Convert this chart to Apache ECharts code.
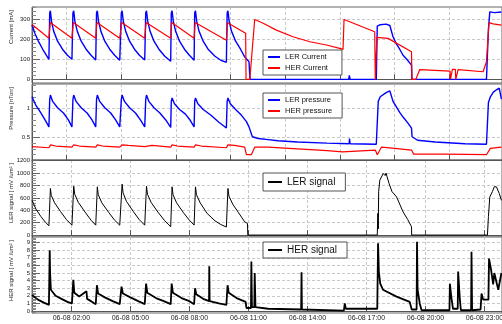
<!DOCTYPE html>
<html>
<head>
<meta charset="utf-8">
<script src="https://cdn.jsdelivr.net/npm/echarts@6/dist/echarts.min.js"></script>
<style>
  html, body { margin: 0; padding: 0; background: #fff; }
  #chart { width: 502px; height: 324px; }
</style>
</head>
<body>
<div id="chart"></div>
<script>
// time in hours since 06-08 00:00
const xTickHours = [2, 5, 8, 11, 14, 17, 20, 23];
const xTickLabels = ['06-08 02:00', '06-08 05:00', '06-08 08:00', '06-08 11:00',
  '06-08 14:00', '06-08 17:00', '06-08 20:00', '06-08 23:00'];
// upper two pads use another set of divisions
const xGridTop = [1.76, 4.54, 7.32, 10.1, 12.88, 15.65, 18.43, 21.21];

const lerCurrent = [
  [0, 270], [0.15, 228], [0.35, 185], [0.6, 140], [0.86, 100],
  [0.9, 330], [0.935, 341], [0.99, 290], [1.1, 240], [1.3, 190], [1.55, 150], [1.8, 120], [2.03, 100],
  [2.08, 330], [2.12, 341], [2.18, 290], [2.3, 240], [2.5, 190], [2.75, 150], [3.0, 120], [3.24, 97],
  [3.28, 330], [3.32, 341], [3.38, 290], [3.5, 240], [3.7, 190], [3.95, 150], [4.2, 120], [4.46, 95],
  [4.54, 330], [4.58, 341], [4.64, 290], [4.76, 240], [4.96, 190], [5.21, 150], [5.46, 120], [5.73, 96],
  [5.78, 330], [5.82, 341], [5.88, 290], [6.0, 240], [6.2, 190], [6.45, 150], [6.75, 115], [7.05, 90],
  [7.08, 330], [7.12, 341], [7.18, 290], [7.3, 240], [7.5, 190], [7.75, 150], [8.0, 120], [8.24, 95],
  [8.27, 330], [8.31, 341], [8.37, 290], [8.49, 240], [8.7, 190], [8.95, 150], [9.3, 115], [9.6, 95], [9.88, 85],
  [9.92, 330], [9.96, 341], [10.02, 290], [10.14, 240], [10.35, 190], [10.6, 150], [10.81, 112], [11.03, 88], [11.08, 0],
  [16.1, 0], [16.13, 20], [16.17, 0],
  [17.5, 0], [17.55, 265], [17.7, 272], [18.0, 275], [18.19, 268], [18.35, 212], [18.53, 175], [18.69, 150],
  [18.86, 120], [19.05, 100], [19.29, 71], [19.31, 0],
  [23.1, 0], [23.2, 250], [23.27, 336], [23.5, 332], [23.86, 335]
];

const herCurrent = [
  [0, 273], [0.86, 205], [0.93, 283], [2.03, 205], [2.1, 283], [3.24, 205], [3.3, 283],
  [4.46, 205], [4.56, 283], [5.73, 205], [5.8, 283], [7.05, 205], [7.1, 283], [8.24, 205], [8.29, 283],
  [9.88, 195], [9.94, 282], [10.86, 229], [10.88, 0], [11.07, 0], [11.32, 298], [11.75, 279], [12.42, 245],
  [13.27, 212], [14.12, 187], [14.97, 171], [15.64, 154], [15.81, 149], [15.86, 298], [17.42, 237],
  [17.45, 0], [17.51, 0], [17.53, 209], [18.1, 204], [19.29, 137], [19.31, 0], [19.51, 0], [19.71, 49],
  [21.25, 41], [21.27, 0], [21.35, 0], [21.37, 50], [21.52, 50], [21.54, 0], [21.64, 0], [21.66, 49],
  [22.93, 38], [23.1, 88], [23.23, 282], [23.44, 276], [23.86, 270]
];

const lerPressure = [
  [0, 1.20], [0.2, 1.05], [0.45, 0.92], [0.7, 0.78], [0.86, 0.68],
  [0.9, 1.15], [0.935, 1.23], [1.05, 1.12], [1.3, 1.01], [1.6, 0.92], [1.85, 0.80], [2.03, 0.68],
  [2.08, 1.15], [2.12, 1.23], [2.24, 1.12], [2.5, 1.01], [2.8, 0.92], [3.05, 0.80], [3.24, 0.68],
  [3.28, 1.15], [3.32, 1.23], [3.44, 1.12], [3.7, 1.01], [4.0, 0.92], [4.25, 0.80], [4.46, 0.68],
  [4.54, 1.15], [4.58, 1.23], [4.7, 1.12], [4.96, 1.01], [5.26, 0.92], [5.51, 0.80], [5.73, 0.68],
  [5.78, 1.15], [5.82, 1.23], [5.94, 1.12], [6.2, 1.01], [6.5, 0.92], [6.8, 0.80], [7.05, 0.67],
  [7.08, 1.12], [7.12, 1.18], [7.24, 1.08], [7.5, 0.98], [7.8, 0.9], [8.05, 0.79], [8.24, 0.68],
  [8.27, 1.12], [8.31, 1.18], [8.43, 1.08], [8.7, 0.98], [9.1, 0.88], [9.5, 0.76], [9.88, 0.66],
  [9.92, 1.12], [9.96, 1.18], [10.08, 1.08], [10.35, 0.98], [10.65, 0.88], [10.9, 0.77], [11.03, 0.68],
  [11.2, 0.51], [11.5, 0.48], [12.0, 0.46], [12.5, 0.44], [13.5, 0.42], [15.0, 0.40], [16.12, 0.39],
  [16.14, 0.48], [16.17, 0.39], [17.5, 0.38], [17.6, 1.12], [17.7, 1.2], [18.0, 1.27], [18.19, 1.3],
  [18.35, 1.12], [18.53, 1.02], [18.69, 0.93], [18.86, 0.85], [19.1, 0.75], [19.29, 0.66], [19.32, 0.51],
  [19.6, 0.45], [20.5, 0.42], [22.0, 0.39], [23.1, 0.38], [23.2, 1.1], [23.3, 1.2], [23.45, 1.28],
  [23.61, 1.32], [23.75, 1.35], [23.86, 1.16]
];

const herPressure = [
  [0, 0.34], [0.86, 0.32], [0.95, 0.37], [1.2, 0.35], [2.03, 0.33], [2.12, 0.37], [2.4, 0.35],
  [3.24, 0.33], [3.32, 0.37], [3.6, 0.35], [4.46, 0.33], [4.58, 0.37], [4.9, 0.36], [5.73, 0.34],
  [5.82, 0.37], [6.1, 0.36], [7.05, 0.33], [7.12, 0.37], [7.4, 0.35], [8.24, 0.33], [8.31, 0.37],
  [8.6, 0.35], [9.88, 0.32], [9.96, 0.37], [10.3, 0.36], [10.81, 0.33], [10.9, 0.2], [11.15, 0.2],
  [11.32, 0.33], [12.0, 0.33], [13.5, 0.3], [15.0, 0.27], [15.78, 0.25], [15.83, 0.28], [17.45, 0.28],
  [17.55, 0.2], [17.65, 0.2], [17.76, 0.33], [18.44, 0.31], [19.29, 0.28], [19.4, 0.21], [21.0, 0.21],
  [23.1, 0.2], [23.3, 0.31], [23.86, 0.33]
];

const lerSignal = [
  [0, 563], [0.2, 420], [0.45, 300], [0.7, 200], [0.86, 150],
  [0.935, 752], [0.98, 640], [1.15, 520], [1.45, 380], [1.75, 250], [2.03, 160],
  [2.12, 789], [2.17, 660], [2.35, 530], [2.7, 370], [3.0, 240], [3.24, 160],
  [3.32, 778], [3.37, 650], [3.55, 520], [3.9, 365], [4.2, 240], [4.46, 160],
  [4.58, 821], [4.63, 680], [4.8, 545], [5.15, 380], [5.45, 250], [5.73, 160],
  [5.82, 789], [5.87, 660], [6.05, 530], [6.4, 370], [6.75, 230], [7.05, 134],
  [7.12, 778], [7.17, 650], [7.35, 520], [7.7, 360], [8.0, 240], [8.24, 161],
  [8.31, 778], [8.36, 650], [8.55, 520], [8.9, 350], [9.3, 230], [9.6, 170], [9.88, 130],
  [9.96, 752], [10.01, 630], [10.2, 500], [10.5, 360], [10.81, 214], [10.95, 188], [10.97, 0],
  [17.55, 0], [17.58, 350], [17.6, 100], [17.62, 700], [17.68, 885], [17.75, 880], [17.85, 993],
  [17.95, 960], [18.0, 1000], [18.05, 939], [18.15, 832], [18.3, 700], [18.53, 617], [18.86, 375],
  [19.1, 250], [19.29, 134], [19.3, 0], [23.15, 0], [23.2, 300], [23.27, 617], [23.4, 700],
  [23.5, 780], [23.61, 778], [23.7, 800], [23.75, 671], [23.86, 560]
];

const herSignal = [
  [0, 2.1], [0.3, 1.5], [0.6, 1.1], [0.86, 0.8], [0.9, 8.0], [0.92, 5.0], [0.96, 2.8], [1.2, 2.0],
  [1.5, 1.6], [1.8, 1.2], [2.03, 1.0], [2.1, 4.1], [2.15, 2.4], [2.4, 1.9], [2.77, 2.6], [2.8, 1.6],
  [3.0, 1.3], [3.24, 0.9], [3.3, 3.4], [3.36, 2.3], [3.7, 1.8], [4.1, 1.3], [4.46, 0.9],
  [4.55, 3.2], [4.62, 2.3], [5.0, 1.8], [5.4, 1.3], [5.73, 0.9], [5.8, 3.6], [5.86, 2.4],
  [6.3, 1.7], [6.7, 1.3], [7.05, 0.9], [7.1, 3.6], [7.16, 2.4], [7.6, 1.7], [8.0, 1.3], [8.24, 0.9],
  [8.29, 3.0], [8.35, 2.2], [8.7, 1.6], [9.0, 1.3], [9.01, 5.9], [9.03, 1.3], [9.5, 1.0], [9.88, 0.8],
  [9.94, 3.4], [10.0, 2.4], [10.4, 1.7], [10.86, 1.2], [10.9, 0.4], [11.13, 0.4], [11.15, 6.5],
  [11.18, 0.5], [11.3, 0.5], [11.32, 5.0], [11.36, 0.5], [12.0, 0.3], [13.68, 0.2], [13.7, 5.1],
  [13.72, 0.2], [15.85, 0.05], [15.9, 1.0], [15.95, 0.3], [17.55, 0.3], [17.59, 8.9], [17.63, 5.2],
  [17.7, 3.6], [17.84, 2.8], [18.53, 1.9], [19.2, 1.2], [19.3, 0.2], [19.55, 0.2], [19.57, 9.1],
  [19.6, 2.8], [19.71, 1.0], [19.8, 0.1], [21.22, 0.1], [21.24, 3.6], [21.32, 1.7], [21.4, 0.3],
  [21.64, 0.3], [21.66, 5.2], [21.75, 1.5], [21.8, 0.1], [22.32, 0.1], [22.34, 7.8], [22.37, 0.1],
  [22.8, 0.2], [22.85, 2.3], [22.93, 1.5], [23.2, 1.5], [23.23, 6.9], [23.33, 5.5], [23.44, 3.5],
  [23.5, 5.0], [23.7, 2.8], [23.86, 5.0]
];

// y axes of the four pads
const yRanges = [[-18, 360], [0.109, 1.42], [-31, 1211], [-0.26, 9.74]];
const yMajor = [
  [0, 100, 200, 300],
  [0.5, 1],
  [0, 200, 400, 600, 800, 1000, 1200],
  [0, 1, 2, 3, 4, 5, 6, 7, 8, 9]
];
const yMinorStep = [20, 0.1, 40, 0.2];
const yTitles = ['Current [mA]', 'Pressure [nTorr]', 'LER signal [ mV /um\u00b2 ]', 'HER signal [ mV /um\u00b2 ]'];

const FONT = 'Liberation Sans, Arial, sans-serif';
const X_MAX = 23.89;
const pads = [
  { top: 7, height: 76 },
  { top: 84, height: 76 },
  { top: 160, height: 77 },
  { top: 237, height: 76 }
];

function minorTicks(i) {
  const out = [];
  const [lo, hi] = yRanges[i];
  const st = yMinorStep[i];
  for (let v = Math.ceil(lo / st) * st; v <= hi; v += st) {
    const r = Math.round(v * 1000) / 1000;
    if (yMajor[i].indexOf(r) < 0) out.push(r);
  }
  return out;
}

const chart = echarts.init(document.getElementById('chart'), null, { renderer: 'canvas' });

const grid = pads.map(p => ({
  left: 32, right: 0, top: p.top, height: p.height,
  show: true, borderColor: '#666', borderWidth: 1, backgroundColor: '#fff',
  outerBoundsMode: 'none', containLabel: false
}));

const xAxis = pads.map((p, i) => ({
  type: 'value', gridIndex: i, min: 0, max: X_MAX,
  axisLine: { show: true, lineStyle: { color: '#555', width: 1 } },
  axisTick: { show: true, inside: true, length: 5, customValues: i < 2 ? xGridTop : xTickHours,
    lineStyle: { color: '#555' } },
  axisLabel: {
    show: i === 3, customValues: xTickHours, fontSize: 7, color: '#222', fontFamily: FONT, margin: 2,
    formatter: v => xTickLabels[xTickHours.indexOf(Math.round(v))] || ''
  },
  splitLine: { show: true, lineStyle: { color: '#bbb', type: [3, 2], width: 0.8 } }
}));

const yAxis = [];
pads.forEach((p, i) => {
  yAxis.push({
    type: 'value', gridIndex: i, min: yRanges[i][0], max: yRanges[i][1],
    axisLine: { show: true, lineStyle: { color: '#555' } },
    axisTick: { show: true, inside: true, length: 8, customValues: yMajor[i], lineStyle: { color: '#666' } },
    axisLabel: { customValues: yMajor[i], fontSize: 6, color: '#222', fontFamily: FONT, margin: 2,
      formatter: v => String(v) },
    splitLine: { show: true, lineStyle: { color: '#bbb', type: [3, 2], width: 0.8 } }
  });
});
pads.forEach((p, i) => {
  yAxis.push({
    type: 'value', gridIndex: i, min: yRanges[i][0], max: yRanges[i][1], position: 'left',
    axisLine: { show: false },
    axisTick: { show: true, inside: true, length: 4, customValues: minorTicks(i), lineStyle: { color: '#888' } },
    axisLabel: { show: false },
    splitLine: { show: false }
  });
});

function line(name, data, idx, color, width) {
  return {
    name, type: 'line', data, xAxisIndex: idx, yAxisIndex: idx,
    symbol: 'none', showSymbol: false, animation: false, silent: true,
    lineStyle: { color, width }, itemStyle: { color }
  };
}

const legendBase = {
  orient: 'vertical', borderColor: '#555', borderWidth: 1, backgroundColor: '#fff',
  itemWidth: 12, itemHeight: 8, itemGap: 3, borderRadius: 0, selectedMode: false,
  itemStyle: { opacity: 0 },
  textStyle: { fontSize: 7.5, color: '#111', fontFamily: FONT }
};

const graphic = yTitles.map((t, i) => ({
  type: 'text', x: 11, y: pads[i].top + 3, rotation: Math.PI / 2,
  style: { text: t, fontSize: 6, fill: '#222', font: '6px ' + FONT, align: 'right', verticalAlign: 'middle' }
}));

chart.setOption({
  animation: false,
  grid, xAxis, yAxis, graphic,
  legend: [
    Object.assign({}, legendBase, { data: ['LER Current', 'HER Current'], left: 263, top: 50, width: 70, padding: [3, 14, 3, 4] }),
    Object.assign({}, legendBase, { data: ['LER pressure', 'HER pressure'], left: 263, top: 93, padding: [3, 10, 3, 4] }),
    Object.assign({}, legendBase, { data: ['LER signal'], left: 263, top: 173, padding: [4, 10, 4, 4],
      itemWidth: 14, textStyle: { fontSize: 10, color: '#111', fontFamily: FONT } }),
    Object.assign({}, legendBase, { data: ['HER signal'], left: 263, top: 242, padding: [3, 10, 3, 4],
      itemWidth: 14, textStyle: { fontSize: 10, color: '#111', fontFamily: FONT } })
  ],
  series: [
    line('LER Current', lerCurrent, 0, '#0000ff', 1.4),
    line('HER Current', herCurrent, 0, '#ff0000', 1.2),
    line('LER pressure', lerPressure, 1, '#0000ff', 1.4),
    line('HER pressure', herPressure, 1, '#ff0000', 1.2),
    line('LER signal', lerSignal, 2, '#000000', 1),
    line('HER signal', herSignal, 3, '#000000', 1.8)
  ]
});
</script>
</body>
</html>
